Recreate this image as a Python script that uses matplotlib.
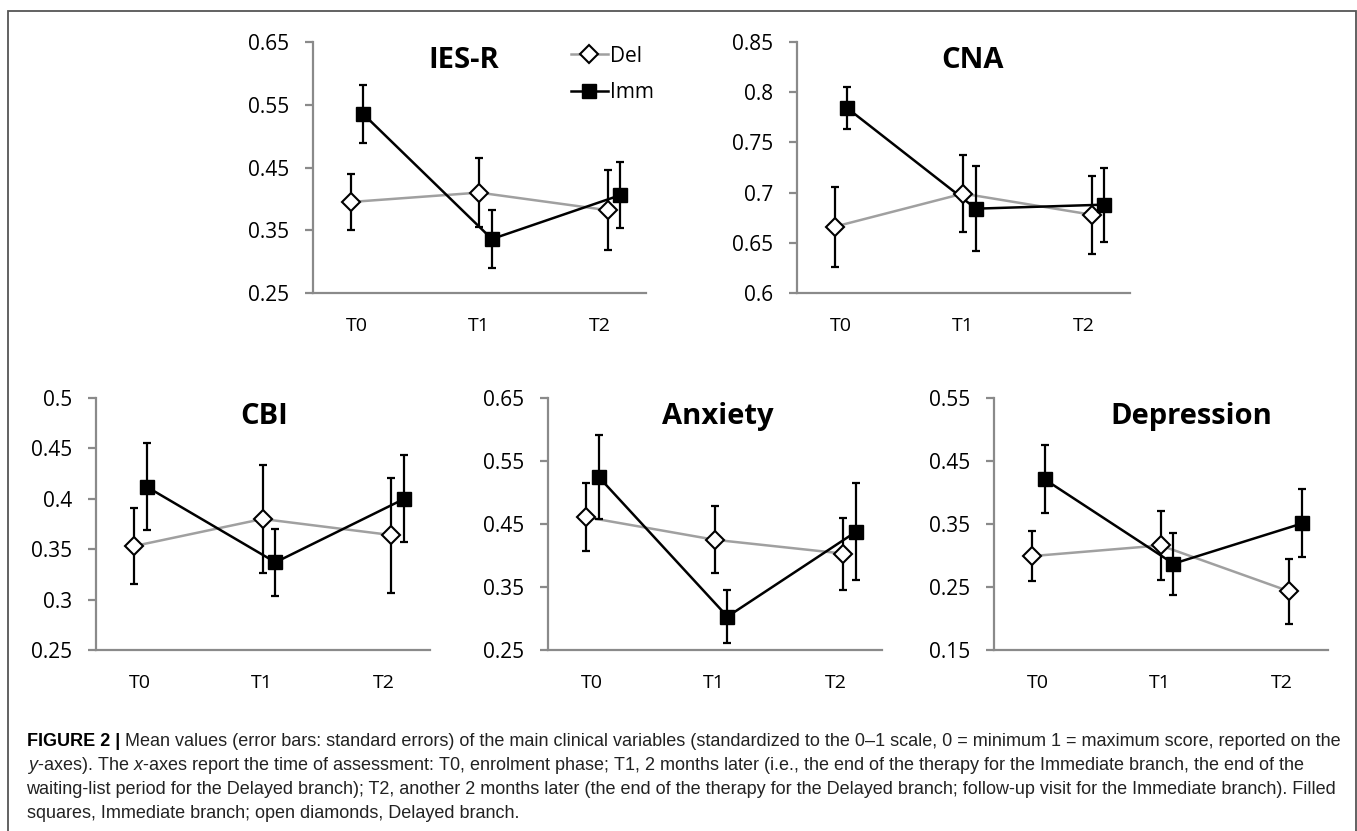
import matplotlib
matplotlib.use('Agg')
import matplotlib.pyplot as plt
import matplotlib.patches as patches
from matplotlib.ticker import FuncFormatter
import numpy as np

times = ['T0', 'T1', 'T2']
panels = ['IES-R', 'CNA', 'CBI', 'Anxiety', 'Depression']

# means and standard errors
del_mean = {
    'IES-R': [0.395, 0.410, 0.382],
    'CNA': [0.666, 0.699, 0.678],
    'CBI': [0.353, 0.380, 0.364],
    'Anxiety': [0.461, 0.425, 0.403],
    'Depression': [0.299, 0.316, 0.243],
}
del_se = {
    'IES-R': [0.045, 0.055, 0.064],
    'CNA': [0.040, 0.038, 0.039],
    'CBI': [0.038, 0.054, 0.057],
    'Anxiety': [0.054, 0.053, 0.057],
    'Depression': [0.040, 0.055, 0.051],
}
imm_mean = {
    'IES-R': [0.535, 0.336, 0.406],
    'CNA': [0.784, 0.684, 0.688],
    'CBI': [0.412, 0.337, 0.400],
    'Anxiety': [0.525, 0.303, 0.438],
    'Depression': [0.421, 0.287, 0.351],
}
imm_se = {
    'IES-R': [0.046, 0.046, 0.052],
    'CNA': [0.021, 0.042, 0.037],
    'CBI': [0.043, 0.033, 0.043],
    'Anxiety': [0.067, 0.042, 0.077],
    'Depression': [0.054, 0.049, 0.054],
}
y_ranges = {
    'IES-R': (0.25, 0.65, 0.1),
    'CNA': (0.6, 0.85, 0.05),
    'CBI': (0.25, 0.5, 0.05),
    'Anxiety': (0.25, 0.65, 0.1),
    'Depression': (0.15, 0.55, 0.1),
}

W, H = 1357, 831
# axes boxes in pixels: left, right, top, bottom
boxes = {
    'IES-R': (313, 646, 42, 293),
    'CNA': (797, 1130, 42, 293),
    'CBI': (96, 430, 398, 650),
    'Anxiety': (548, 882, 398, 650),
    'Depression': (994, 1328, 398, 650),
}
title_x = {'IES-R': 0.453, 'CNA': 0.526, 'CBI': 0.503, 'Anxiety': 0.509, 'Depression': 0.59}

plt.rcParams['font.family'] = ['Open Sans', 'DejaVu Sans']
fig = plt.figure(figsize=(W / 100, H / 100), dpi=100)

spine_col = '#8a8a8a'
x = np.arange(len(times))
off = 0.05
del_style = dict(marker='D', ms=9, mfc='white', mec='black', mew=1.5)
imm_style = dict(marker='s', ms=9.5, mfc='black', mec='black')

for name in panels:
    l, r, t, b = boxes[name]
    ax = fig.add_axes([l / W, 1 - b / H, (r - l) / W, (b - t) / H])
    lo, hi, step = y_ranges[name]

    ax.plot(x - off, del_mean[name], color='#a0a0a0', lw=1.8, zorder=2)
    ax.plot(x + off, imm_mean[name], color='black', lw=1.8, zorder=2)
    ax.errorbar(x - off, del_mean[name], yerr=del_se[name], fmt='none', ecolor='black',
                elinewidth=1.6, capsize=3, capthick=1.6, zorder=3)
    ax.errorbar(x + off, imm_mean[name], yerr=imm_se[name], fmt='none', ecolor='black',
                elinewidth=1.6, capsize=3, capthick=1.6, zorder=3)
    # markers on top of the error bars
    ax.plot(x - off, del_mean[name], ls='none', zorder=4, **del_style)
    ax.plot(x + off, imm_mean[name], ls='none', zorder=4, **imm_style)

    ax.set_xlim(-0.342, 2.249)
    ax.set_ylim(lo, hi)
    ax.set_yticks(np.arange(lo, hi + step / 2, step))
    ax.yaxis.set_major_formatter(FuncFormatter(lambda v, p: '{:g}'.format(round(v, 2))))
    # category labels sit slightly tighter than the points in the original
    ax.set_xticks(x * 0.945)
    ax.set_xticklabels(times)

    for s in ['top', 'right']:
        ax.spines[s].set_visible(False)
    for s in ['left', 'bottom']:
        ax.spines[s].set_color(spine_col)
        ax.spines[s].set_linewidth(1.6)
        ax.spines[s].set_zorder(1)
    ax.tick_params(axis='y', length=6, width=1.6, color=spine_col, pad=11, labelsize=15)
    ax.tick_params(axis='x', length=0, pad=17, labelsize=14)
    ax.patch.set_alpha(0)

    ax.text(title_x[name], 0.895, name, transform=ax.transAxes, ha='center', va='baseline',
            fontsize=21, fontweight='bold')

    if name == 'IES-R':
        handles = [
            plt.Line2D([], [], color='#a0a0a0', lw=1.8, **del_style),
            plt.Line2D([], [], color='black', lw=1.8, **imm_style),
        ]
        ax.legend(handles, ['Del', 'Imm'], loc='upper left', bbox_to_anchor=(0.775, 0.985),
                  frameon=False, fontsize=15, handlelength=1.75, handletextpad=0.1,
                  borderpad=0, borderaxespad=0, labelspacing=0.75)

# frame around the figure
fig.add_artist(patches.Rectangle((7.5 / W, -0.01), (1355.5 - 7.5) / W, 1 + 0.01 - 11 / H,
                                 transform=fig.transFigure, fill=False, ec='#555555', lw=1.3))

# caption
cap_font = 'Liberation Sans'
plt.rcParams['mathtext.fontset'] = 'custom'
plt.rcParams['mathtext.it'] = 'Liberation Sans:italic'
plt.rcParams['mathtext.rm'] = 'Liberation Sans'
cap_size = 13
cap_x = 26.5
baselines = [746.5, 770.5, 794.5, 818.5]
lines = [
    'Mean values (error bars: standard errors) of the main clinical variables (standardized to the 0\u20131 scale, 0 = minimum 1 = maximum score, reported on the',
    r'$\it{y}$-axes). The $\it{x}$-axes report the time of assessment: T0, enrolment phase; T1, 2 months later (i.e., the end of the therapy for the Immediate branch, the end of the',
    'waiting-list period for the Delayed branch); T2, another 2 months later (the end of the therapy for the Delayed branch; follow-up visit for the Immediate branch). Filled',
    'squares, Immediate branch; open diamonds, Delayed branch.',
]
head = fig.text(cap_x / W, 1 - baselines[0] / H, 'FIGURE 2 | ', family=cap_font, fontsize=cap_size,
                fontweight='bold', va='baseline', color='black')
fig.canvas.draw()
hb = head.get_window_extent()
fig.text(hb.x1 / W, 1 - baselines[0] / H, lines[0], family=cap_font, fontsize=cap_size,
         va='baseline', color='#222222')
for yb, txt in zip(baselines[1:], lines[1:]):
    fig.text(cap_x / W, 1 - yb / H, txt, family=cap_font, fontsize=cap_size, va='baseline',
             color='#222222')

fig.savefig('out.png', dpi=100)
